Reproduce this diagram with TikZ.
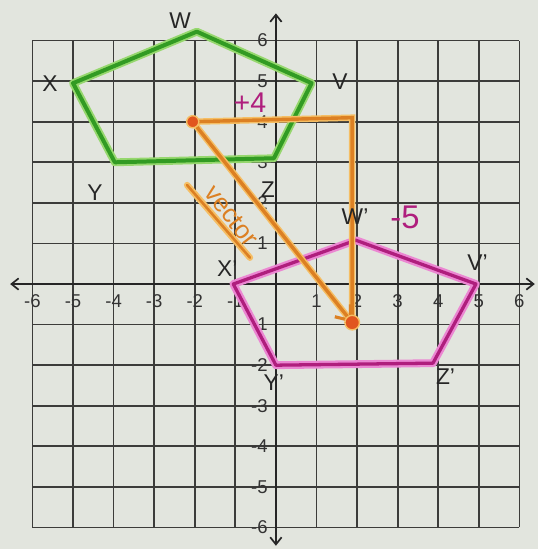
\documentclass[tikz,border=0pt]{standalone}
\usepackage{fontspec}
\setmainfont{Liberation Sans}
\usetikzlibrary{arrows.meta}
\definecolor{paper}{RGB}{226,229,222}
\definecolor{gridc}{RGB}{60,60,58}
\definecolor{grn}{RGB}{50,155,35}
\definecolor{grnglow}{RGB}{150,215,110}
\definecolor{mag}{RGB}{175,30,125}
\definecolor{magglow}{RGB}{235,135,210}
\definecolor{org}{RGB}{220,128,35}
\definecolor{orgglow}{RGB}{245,190,100}
\definecolor{orgdot}{RGB}{225,85,30}
\tikzset{
  gridline/.style={draw=gridc, line width=1.2pt},
  axisline/.style={draw=black!85, line width=1.2pt, {Straight Barb[length=5pt,width=8pt]}-{Straight Barb[length=5pt,width=8pt]}},
  numlab/.style={font=\fontsize{13}{14}\selectfont, text=black!80, inner sep=1pt},
  ptlab/.style={font=\fontsize{16}{18}\selectfont, text=black!85, inner sep=1pt},
  hand/.style={text=mag, inner sep=1pt},
  greenglow/.style={draw=grnglow, line width=5.5pt, line join=round},
  greencore/.style={draw=grn, line width=2.8pt, line join=round},
  magglowline/.style={draw=magglow, line width=5.5pt, line join=round},
  magcore/.style={draw=mag, line width=2.3pt, line join=round},
  orgglowline/.style={draw=orgglow, line width=4.5pt, line cap=round},
  orgcore/.style={draw=org, line width=2.4pt, line cap=round},
  dotfill/.style={fill=orgdot, draw=orgglow, line width=1pt},
}
\begin{document}
\begin{tikzpicture}[x=1cm,y=1cm]
\fill[paper] (-6.80,-6.53) rectangle (6.45,7.0);
\useasboundingbox (-6.80,-6.53) rectangle (6.45,7.0);
% grid
\draw[gridline] (-6,-6) grid (6,6);
% axes
\coordinate (xleft) at (-6.55,0);
\coordinate (xright) at (6.38,0);
\coordinate (ybottom) at (0,-6.45);
\coordinate (ytop) at (0,6.67);
\draw[axisline] (xleft) -- (xright);
\draw[axisline] (ybottom) -- (ytop);
% axis numbers
\foreach \i in {-6,-5,-4,-3,-2,-1,1,2,3,4,5,6}{
  \node[numlab] (xn\i) at (\i,-0.42) {\i};
  \node[numlab, anchor=east] (yn\i) at (-0.16,\i) {\i};
}
% green pentagon VWXYZ
\coordinate (W) at (-1.95,6.22);
\coordinate (X) at (-5.0,4.95);
\coordinate (Y) at (-3.97,3.0);
\coordinate (Z) at (-0.05,3.1);
\coordinate (V) at (0.88,4.95);
\draw[greenglow] (W) -- (X) -- (Y) -- (Z) -- (V) -- cycle;
\draw[greencore] (W) -- (X) -- (Y) -- (Z) -- (V) -- cycle;
% magenta image
\coordinate (Xp) at (-1.05,0.0);
\coordinate (Wp) at (1.97,1.08);
\coordinate (Vp) at (4.93,0.0);
\coordinate (Zp) at (3.87,-1.95);
\coordinate (Yp) at (0.0,-2.0);
\draw[magglowline] (Xp) -- (Wp) -- (Vp) -- (Zp) -- (Yp) -- cycle;
\draw[magcore] (Xp) -- (Wp) -- (Vp) -- (Zp) -- (Yp) -- cycle;
% orange translation
\coordinate (P) at (-2.05,4.0);
\coordinate (Q) at (1.88,4.1);
\coordinate (R) at (1.88,-0.95);
\draw[orgglowline] (P) -- (Q) -- (R);
\draw[orgcore] (P) -- (Q) -- (R);
\draw[orgglowline] (P) -- (R);
\draw[orgcore, -{Straight Barb[length=9pt,width=14pt,line width=2.2pt]}] (P) -- (R);
\fill[dotfill] (P) circle (0.15);
\fill[dotfill] (R) circle (0.18);
% vector label
\node[text=org, font=\fontsize{18}{20}\selectfont, rotate=-52, inner sep=0pt] (vec) at (-1.1,1.68) {vector};
\coordinate (u1) at (-2.19,2.44);
\coordinate (u2) at (-0.64,0.65);
\draw[orgglowline] (u1) -- (u2);
\draw[orgcore, line width=1.8pt] (u1) -- (u2);
% point labels
\node[ptlab] (lW) at (-2.36,6.48) {W};
\node[ptlab] (lX) at (-5.57,4.95) {X};
\node[ptlab] (lY) at (-4.46,2.24) {Y};
\node[ptlab] (lV) at (1.58,5.0) {V};
\node[ptlab] (lZ) at (-0.2,2.32) {Z};
\node[ptlab] (lWp) at (1.95,1.65) {W'};
\node[ptlab] (lXp) at (-1.2,0.38) {X'};
\node[ptlab] (lVp) at (4.97,0.52) {V'};
\node[ptlab] (lZp) at (4.18,-2.29) {Z'};
\node[ptlab] (lYp) at (-0.05,-2.42) {Y'};
% handwritten magenta amounts
\node[hand, font=\fontsize{20}{22}\selectfont] (plus4) at (-0.64,4.46) {+4};
\node[hand, font=\fontsize{23}{24}\selectfont] (minus5) at (3.18,1.65) {-5};
\end{tikzpicture}
\end{document}
